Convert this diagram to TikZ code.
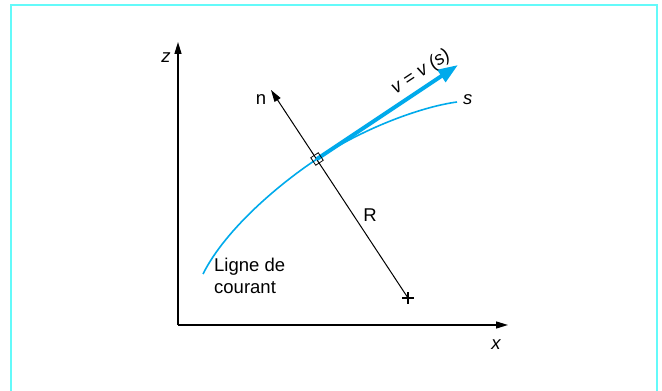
\documentclass[tikz,border=0pt]{standalone}
\usepackage{fontspec}
\setmainfont{Liberation Sans}
\usetikzlibrary{arrows.meta}
\definecolor{framecyan}{RGB}{100,250,250}
\definecolor{flowcyan}{RGB}{0,170,235}
\begin{document}
\begin{tikzpicture}[x=1pt,y=1pt,
  axis/.style={line width=1.4pt,-{Triangle[length=12pt,width=7pt]}},
  lbl/.style={font=\fontsize{18.5}{22}\selectfont,inner sep=0pt},
  ilbl/.style={font=\fontsize{18.5}{22}\selectfont\itshape,inner sep=0pt}]
\useasboundingbox (0,0) rectangle (662,391);
\begin{scope}
\clip (0,0) rectangle (662,391);
\draw[framecyan,line width=2pt] (11,-20) rectangle (657,386);
\end{scope}
% axes
\coordinate (O) at (178,66);
\coordinate (ztip) at (178,349);
\coordinate (xtip) at (508,66);
\draw[axis] (O) -- (ztip);
\draw[axis] (O) -- (xtip);
\node[ilbl] (zl) at (166,333) {z};
\node[ilbl] (xl) at (496,46) {x};
% normal line
\coordinate (P) at (317,232);
\coordinate (C) at (408,93);
\coordinate (ntip) at (271,301);
\draw[line width=1pt,-{Triangle[length=12pt,width=7pt]}] (C) -- (ntip);
\node[lbl] (nl) at (261,291) {n};
\node[lbl] (Rl) at (370,176) {R};
\draw[line width=2pt] ([xshift=-6pt]C) -- ([xshift=6pt]C);
\draw[line width=2pt] ([yshift=-6pt]C) -- ([yshift=6pt]C);
% streamline
\coordinate (S0) at (203,117);
\coordinate (S1) at (457,289);
\draw[flowcyan,line width=1.6pt] (S0) .. controls (226,163) and (282,209) .. (P)
   .. controls (362,262) and (420,284) .. (S1);
\node[ilbl,anchor=west] (sl) at (463,291) {s};
% velocity
\coordinate (V) at (458,326);
\draw[flowcyan,line width=4pt,-{Triangle[length=20pt,width=14pt]}] (P) -- (V);
\node[ilbl,rotate=33.4] (vl) at (421,319) {v = v (s)};
% small square
\node[draw,line width=0.8pt,minimum size=9pt,inner sep=0pt,rotate=33.4] (sq) at (P) {};
% label
\node[lbl,anchor=north west,align=left] (lc) at (214,133) {Ligne de\\courant};
\end{tikzpicture}
\end{document}
